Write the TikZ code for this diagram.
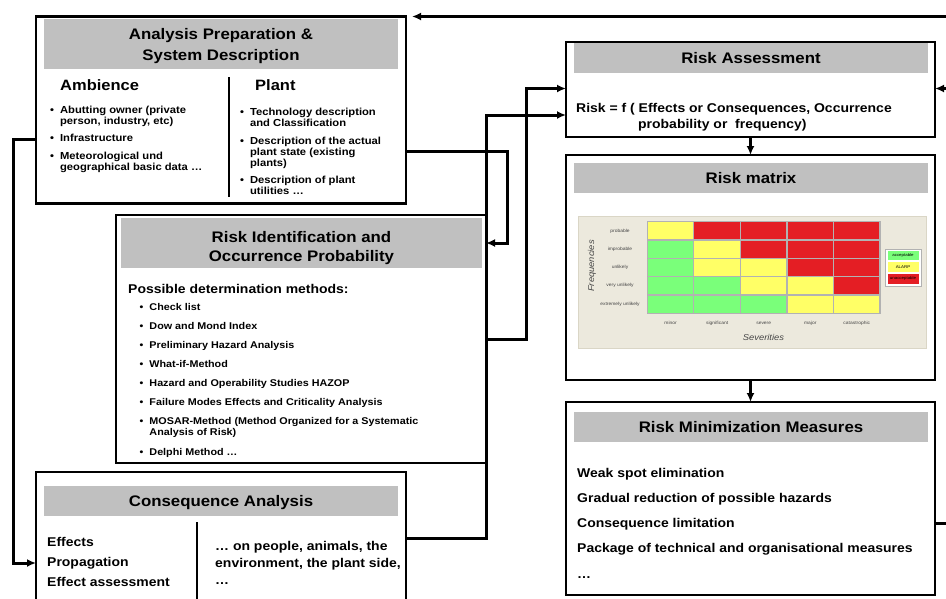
\documentclass[tikz,border=0pt]{standalone}
\usepackage{fontspec}
\setmainfont{Liberation Sans}[FakeStretch=1.1]
\usetikzlibrary{arrows.meta}
\definecolor{headgray}{RGB}{192,192,192}
\definecolor{matbeige}{RGB}{236,233,221}
\definecolor{matedge}{RGB}{218,214,198}
\definecolor{riskG}{RGB}{122,255,122}
\definecolor{riskY}{RGB}{255,255,102}
\definecolor{riskR}{RGB}{228,30,36}
\definecolor{cellline}{RGB}{178,178,178}
\definecolor{labgray}{RGB}{70,70,70}
\newcommand{\cstack}[1]{\begin{tabular}[t]{@{}c@{}}#1\end{tabular}}
\newcommand{\lstack}[1]{\begin{tabular}[t]{@{}l@{}}#1\end{tabular}}
\newcommand{\bitem}[1]{\begin{tabular}[t]{@{}l@{\hspace{6pt}}l@{}}\textbullet&#1\end{tabular}}

\begin{document}
\begin{tikzpicture}[x=1pt,y=-1pt,>={Latex[length=9pt,width=8pt]},
  panel/.style={draw,line width=2.6pt,inner sep=0pt,outer sep=0pt,minimum width=370pt},
  head/.style={fill=headgray,inner sep=0pt,minimum width=354pt,minimum height=30pt,
    text height=11pt,text depth=0pt,font=\fontsize{15.3}{21.5}\selectfont\bfseries},
  sub/.style={anchor=base west,inner sep=0pt,font=\fontsize{15}{18}\selectfont\bfseries},
  bul/.style={anchor=base west,inner sep=0pt,font=\fontsize{10.2}{11}\selectfont\bfseries},
  body/.style={anchor=base west,inner sep=0pt,font=\fontsize{12.7}{17.5}\selectfont\bfseries},
  conn/.style={line width=3pt},
  divider/.style={line width=2.6pt},
  tiny/.style={inner sep=0pt,text=labgray,font=\fontsize{4.5}{5}\selectfont},
  axlab/.style={inner sep=0pt,text=labgray,font=\fontsize{8.5}{10}\selectfont\itshape},
  legbox/.style={inner sep=0pt,minimum width=32pt,minimum height=10.5pt,draw=white,
    line width=.8pt,font=\fontsize{4}{5}\selectfont}]
 \useasboundingbox (0,0) rectangle (946,598);
 \node[panel,minimum height=187pt] (prep) at (221,110) {};
 \node[panel,minimum height=248pt] (ident) at (301,339) {};
 \node[panel,minimum height=138pt] (cons) at (221,541) {};
 \node[panel,minimum width=369pt,minimum height=95pt] (assess) at (750.5,89.3) {};
 \node[panel,minimum width=369pt,minimum height=225pt] (riskmat) at (750.5,267.5) {};
 \node[panel,minimum width=369pt,minimum height=193pt] (minim) at (750.5,498.5) {};

 \node[head,minimum height=50pt,text depth=20.4pt] (prephead) at (221,44)
  {\cstack{Analysis Preparation \&\\System Description}};
 \node[head,minimum width=361pt,minimum height=50pt,text depth=11.6pt,
  font=\fontsize{15.3}{19}\selectfont\bfseries] (identhead) at (301.5,243)
  {\cstack{Risk Identification and\\Occurrence Probability}};
 \node[head] (conshead) at (221,501) {Consequence Analysis};
 \node[head] (assesshead) at (751,58) {Risk Assessment};
 \node[head] (mathead) at (751,178) {Risk matrix};
 \node[head] (minhead) at (751,427.2) {Risk Minimization Measures};

 \node[sub] (amb) at (60,90.7) {Ambience};
 \node[sub] (plant) at (255,90.7) {Plant};
 \draw[divider] (229,77) -- (229,197);
 \foreach \yy/\txt in {113/{Abutting owner (private\\&person, industry, etc)},
   141/{Infrastructure},159/{Meteorological und\\&geographical basic data …}}
  \node[bul] (amb\yy) at (50,\yy) {\bitem{\txt}};
 \foreach \yy/\txt in {115/{Technology description\\&and Classification},
   144/{Description of the actual\\&plant state (existing\\&plants)},
   183/{Description of plant\\&utilities …}}
  \node[bul] (pl\yy) at (240,\yy) {\bitem{\txt}};

 \node[body] (methods) at (128,293) {Possible determination methods:};
 \foreach \yy/\txt in {310/{Check list},329/{Dow and Mond Index},
   348/{Preliminary Hazard Analysis},367/{What-if-Method},
   386/{Hazard and Operability Studies HAZOP},
   405/{Failure Modes Effects and Criticality Analysis},
   424/{MOSAR-Method (Method Organized for a Systematic\\&Analysis of Risk)},
   455/{Delphi Method …}}
  \node[bul,font=\fontsize{9.8}{11}\selectfont\bfseries] (meth\yy) at (139.5,\yy) {\bitem{\txt}};

 \draw[divider] (197,522) -- (197,610);
 \node[body,font=\fontsize{12.7}{20}\selectfont\bfseries] (conslist) at (47,546.5)
  {\lstack{Effects\\Propagation\\Effect assessment}};
 \node[body,font=\fontsize{12.7}{17}\selectfont\bfseries] (consobj) at (215,550)
  {\lstack{… on people, animals, the\\environment, the plant side,\\…}};

 \node[body,font=\fontsize{12.7}{16.5}\selectfont\bfseries] (formula) at (576,112)
  {\lstack{Risk = f ( Effects or Consequences, Occurrence\\
   \hspace*{62pt}probability or\ \ frequency)}};

 \fill[matbeige,draw=matedge,line width=1pt] (578,216) rectangle (926,348);
 \foreach \cols [count=\r from 0] in {{Y,R,R,R,R},{G,Y,R,R,R},{G,Y,Y,R,R},{G,G,Y,Y,R},{G,G,G,Y,Y}}
  \foreach \c [count=\i from 0] in \cols
   \draw[fill=risk\c,draw=cellline,line width=1.2pt]
    ({647.3+\i*46.55},{221.7+\r*18.3}) rectangle ++(46.55,18.3);
 \foreach \lab [count=\r from 0] in {probable,improbable,unlikely,very unlikely,extremely unlikely}
  \node[tiny] (freq\r) at (620,{230.85+\r*18.3}) {\lab};
 \foreach \lab [count=\i from 0] in {minor,significant,severe,major,catastrophic}
  \node[tiny] (sev\i) at ({670.6+\i*46.55},323) {\lab};
 \node[axlab,rotate=90] (freqax) at (592,266) {Frequencies};
 \node[axlab] (sevax) at (763.5,337) {Severities};
 \draw[cellline,fill=white,line width=1pt] (885,249) rectangle (921,286);
 \node[legbox,fill=riskG] (acc) at (903,255.5) {acceptable};
 \node[legbox,fill=riskY] (alarp) at (903,267) {ALARP};
 \node[legbox,fill=riskR] (unacc) at (903,278.8) {unacceptable};

 \node[body,font=\fontsize{12.7}{25.3}\selectfont\bfseries] (measures) at (577,477)
  {\lstack{Weak spot elimination\\Gradual reduction of possible hazards\\
   Consequence limitation\\Package of technical and organisational measures\\…}};

 \coordinate (back) at (952,88.5);
 \draw[conn,->] (prep.east |- 0,151) -| (507,243) -- (ident.east |- 0,243);
 \draw[conn,->] (ident.east |- 0,339) -| (526,88.5) -- (assess.west |- 0,88.5);
 \draw[conn,->] (cons.east |- 0,538) -| (486,115) -- (assess.west |- 0,115);
 \draw[conn,->] (prep.west |- 0,139) -| (13,563) -- (cons.west |- 0,563);
 \draw[conn,->] (assess.south) -- (riskmat.north);
 \draw[conn,->] (riskmat.south) -- (minim.north);
 \draw[conn,->,shorten >=6pt] (minim.east |- 0,523) -| (back |- prep.north) -- (prep.north east);
 \draw[conn,->] (back) -- (assess.east |- back);
\end{tikzpicture}
\end{document}
